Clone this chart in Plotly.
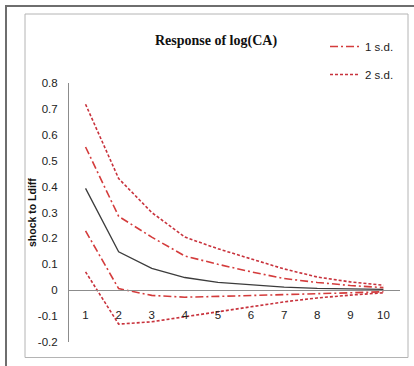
import plotly.graph_objects as go

# ---- data ----
periods = [1, 2, 3, 4, 5, 6, 7, 8, 9, 10]
response = [0.393, 0.148, 0.084, 0.049, 0.030, 0.020, 0.012, 0.007, 0.004, 0.003]
sd1_upper = [0.553, 0.285, 0.205, 0.132, 0.100, 0.071, 0.045, 0.030, 0.018, 0.010]
sd1_lower = [0.229, 0.006, -0.020, -0.027, -0.024, -0.021, -0.018, -0.014, -0.010, -0.006]
sd2_upper = [0.718, 0.431, 0.300, 0.205, 0.160, 0.120, 0.082, 0.051, 0.032, 0.019]
sd2_lower = [0.071, -0.131, -0.122, -0.102, -0.084, -0.064, -0.045, -0.030, -0.019, -0.010]
y_ticks = [0.8, 0.7, 0.6, 0.5, 0.4, 0.3, 0.2, 0.1, 0, -0.1, -0.2]
y_tick_labels = ["0.8", "0.7", "0.6", "0.5", "0.4", "0.3", "0.2", "0.1", "0", "-0.1", "-0.2"]
x_tick_labels = [str(p) for p in periods]

# ---- geometry (pixels) ----
W, H = 414, 366
L, R, T, B = 69, 400, 83, 342
pw, ph = R - L, B - T


def px(x):
    return (x - L) / pw


def py(y):
    return (B - y) / ph


red1 = "#d43c3c"
red2 = "#c8323c"
narrow = "Liberation Sans Narrow, Arial Narrow, Liberation Sans, Arial, sans-serif"

fig = go.Figure()
fig.add_trace(go.Scatter(x=periods, y=response, mode="lines",
                         line=dict(color="#3c3c3c", width=1.3), showlegend=False))
fig.add_trace(go.Scatter(x=periods, y=sd1_upper, mode="lines", name="1 s.d.",
                         legendgroup="a", line=dict(color=red1, width=1.6, dash="8px,3px,2px,3px")))
fig.add_trace(go.Scatter(x=periods, y=sd1_lower, mode="lines", name="1 s.d.", legendgroup="a",
                         showlegend=False, line=dict(color=red1, width=1.6, dash="8px,3px,2px,3px")))
fig.add_trace(go.Scatter(x=periods, y=sd2_upper, mode="lines", name="2 s.d.",
                         legendgroup="b", line=dict(color=red2, width=1.6, dash="3px,2px")))
fig.add_trace(go.Scatter(x=periods, y=sd2_lower, mode="lines", name="2 s.d.", legendgroup="b",
                         showlegend=False, line=dict(color=red2, width=1.6, dash="3px,2px")))

fig.update_layout(
    width=W, height=H,
    margin=dict(l=L, r=W - R, t=T, b=H - B, pad=0),
    paper_bgcolor="white", plot_bgcolor="white",
    title=dict(text="<b>Response of log(CA)</b>", x=px(216), xref="paper", xanchor="center",
               y=1 - 40 / H, yref="container", yanchor="middle",
               font=dict(family="Liberation Serif, Times New Roman, serif", size=14, color="#111")),
    legend=dict(x=px(325), y=py(32), xanchor="left", yanchor="top",
                font=dict(family=narrow, size=11.5, color="#222"),
                tracegroupgap=9, bgcolor="rgba(0,0,0,0)"),
    xaxis=dict(range=[0.5, 10.5], tickvals=periods, ticktext=x_tick_labels,
               showgrid=False, zeroline=False, showline=True, linecolor="#8c8c8c", linewidth=1,
               anchor="free", position=py(290), ticks="", ticklabelstandoff=14,
               tickfont=dict(family=narrow, size=11.5, color="#222")),
    yaxis=dict(range=[-0.2, 0.8], tickvals=y_ticks, ticktext=y_tick_labels,
               showgrid=False, zeroline=False, showline=True, linecolor="#8c8c8c", linewidth=1,
               ticks="", ticklabelstandoff=8,
               tickfont=dict(family=narrow, size=11.5, color="#222")),
    annotations=[dict(text="<b>shock to Ldiff</b>", textangle=-90, xref="paper", yref="paper",
                      x=px(32), y=py(213), xanchor="center", yanchor="middle", showarrow=False,
                      font=dict(family="Liberation Sans, Arial, sans-serif", size=10.5, color="#111"))],
    shapes=[
        dict(type="rect", xref="paper", yref="paper", x0=px(6), x1=px(430), y0=py(6), y1=py(400),
             line=dict(color="#6e6e6e", width=2), layer="below"),
        dict(type="rect", xref="paper", yref="paper", x0=px(25), x1=px(408), y0=py(14), y1=py(357.5),
             line=dict(color="#b4b4b4", width=1), layer="below"),
    ],
)

fig.write_html("out.html")
